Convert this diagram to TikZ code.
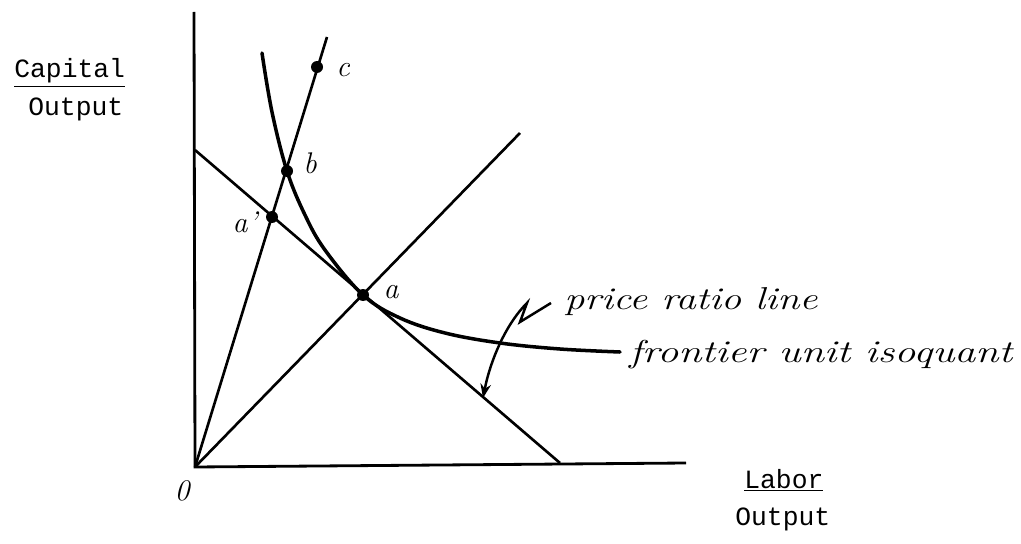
\documentclass[tikz,border=0pt]{standalone}
\usepackage{fontspec}
\usepackage{graphicx}
\newfontfamily\cour{Liberation Mono}
\usetikzlibrary{arrows.meta}
\tikzset{
  axis/.style={line width=1.6pt},
  ln/.style={line width=1.5pt},
  iso/.style={line width=2pt, line join=round, line cap=round},
  dot/.style={circle, fill=black, inner sep=0pt, minimum size=0.24cm},
  hand/.style={font=\fontsize{18}{20}\selectfont\itshape, inner sep=0pt},
  letter/.style={font=\fontsize{17}{19}\selectfont\itshape, inner sep=0pt},
  typed/.style={font=\fontsize{15}{18}\selectfont\cour, inner sep=0pt},
}
\begin{document}
\begin{tikzpicture}[x=0.02cm,y=-0.02cm]
\useasboundingbox (0,0) rectangle (1021,544);
% key coordinates
\coordinate (O) at (195,467);
\coordinate (ytop) at (194,12);
\coordinate (xend) at (686,463);
\coordinate (pstart) at (195,150);
\coordinate (pend) at (560,463);
\coordinate (d45) at (520,133);
\coordinate (rtop) at (327,37);
\coordinate (arrS) at (551,303);
\coordinate (arrT) at (483,398);
% axes
\draw[axis] (ytop) -- (O) -- (xend);
% lines
\draw[ln] (pstart) -- (pend);
\draw[ln] (O) -- (d45);
\draw[ln] (O) -- (rtop);
% isoquant
\draw[iso] plot[smooth, tension=0.6] coordinates {(262,53) (272,112) (287,171) (305,215) (325,250) (363,295) (400,318) (445,333) (500,343) (560,349) (620,352)};
% dots
\node[dot] (c) at (317,67) {};
\node[dot] (b) at (287,171) {};
\node[dot] (ap) at (272,217) {};
\node[dot] (a) at (363,295) {};
% point labels
\node[letter] (lO) at (182,491) {0};
\node[letter] (la) at (391,292) {a};
\node[letter] (lb) at (310,163) {b};
\node[letter] (lc) at (343,70) {c};
\node[letter] (lap) at (245,222) {a\kern0.5pt’};
% annotations
\node[hand, anchor=base west] (price) at (564,309) {\scalebox{1.27}[1]{price ratio line}};
\node[hand, anchor=base west] (front) at (629,362) {\scalebox{1.33}[1]{frontier unit isoquant}};
\draw[line width=1.4pt, -{Stealth[length=8pt, width=6pt]}] (arrS) -- (520,322) -- (527,303) .. controls (505,325) and (490,362) .. (arrT);
% axis labels
\node[typed, anchor=base west] (cap) at (14,78) {\underline{Capital}};
\node[typed, anchor=base west] (out1) at (28,115) {Output};
\node[typed, anchor=base west] (lab) at (744,488) {\underline{Labor}};
\node[typed, anchor=base west] (out2) at (735,525) {Output};
\end{tikzpicture}
\end{document}
